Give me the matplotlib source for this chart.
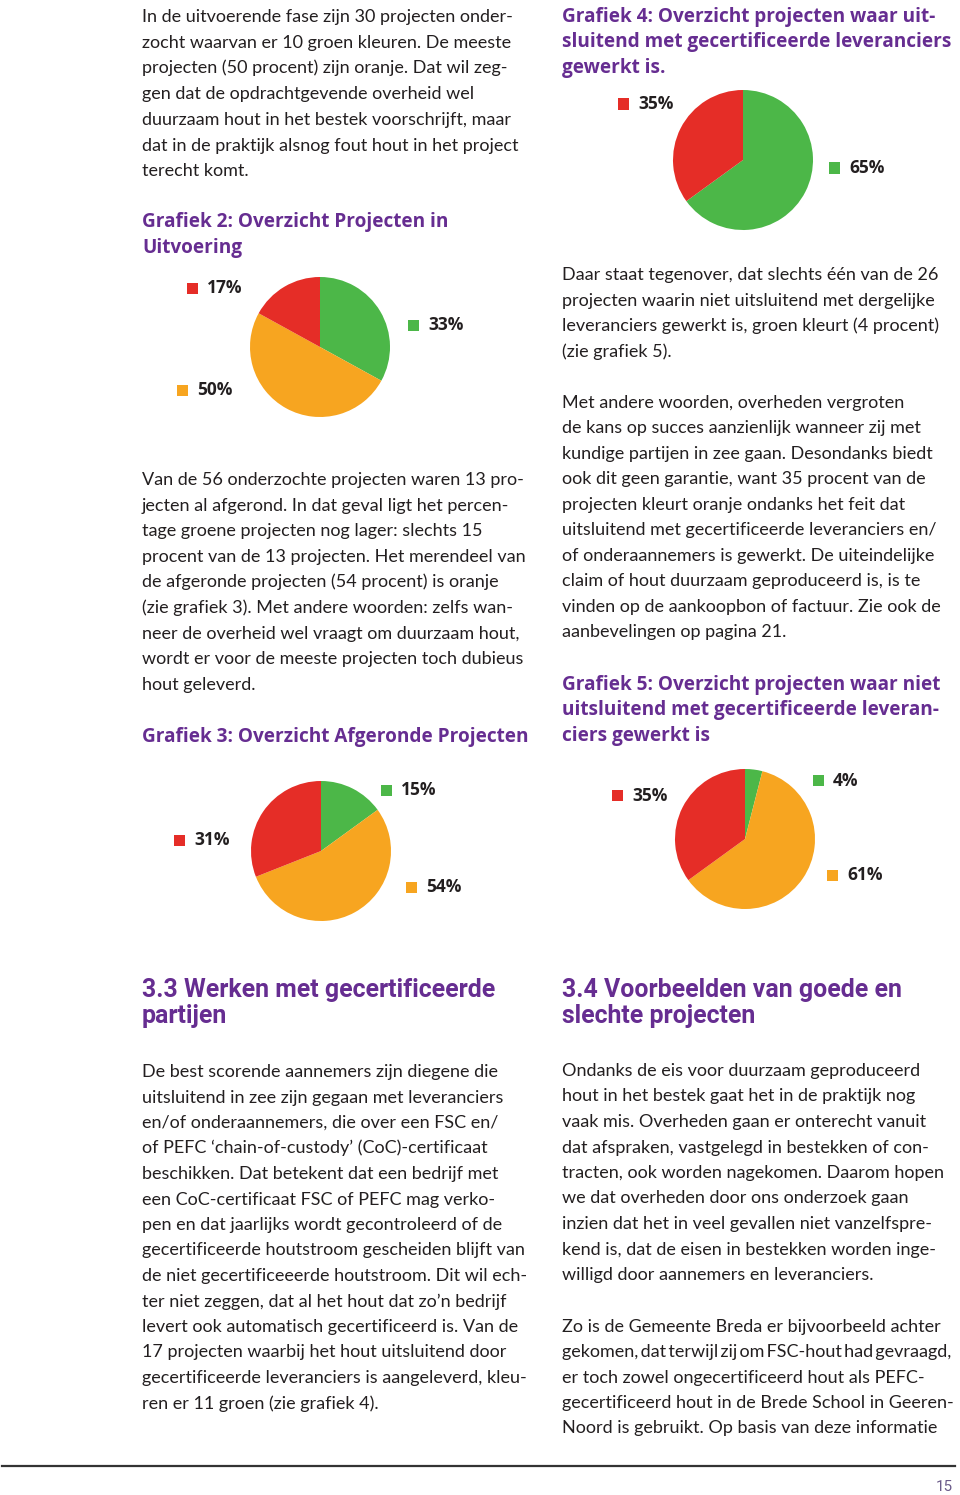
from matplotlib import pyplot as plt
from matplotlib.patches import Rectangle

W, H = 960, 1495

GREEN = '#4cb748'
ORANGE = '#f7a520'
RED = '#e52d27'
PURPLE = '#662d91'
INK = '#231f20'

# chart data (percent), slices go clockwise from the top
g2_vals = [33, 50, 17]
g2_cols = [GREEN, ORANGE, RED]
g4_vals = [65, 35]
g4_cols = [GREEN, RED]
g3_vals = [15, 54, 31]
g3_cols = [GREEN, ORANGE, RED]
g5_vals = [4, 61, 35]
g5_cols = [GREEN, ORANGE, RED]

para1 = ['In de uitvoerende fase zijn 30 projecten onder-',
         'zocht waarvan er 10 groen kleuren. De meeste',
         'projecten (50 procent) zijn oranje. Dat wil zeg-',
         'gen dat de opdrachtgevende overheid wel',
         'duurzaam hout in het bestek voorschrijft, maar',
         'dat in de praktijk alsnog fout hout in het project',
         'terecht komt.']
title2 = ['Grafiek 2: Overzicht Projecten in', 'Uitvoering']
para2 = ['Van de 56 onderzochte projecten waren 13 pro-',
         'jecten al afgerond. In dat geval ligt het percen-',
         'tage groene projecten nog lager: slechts 15',
         'procent van de 13 projecten. Het merendeel van',
         'de afgeronde projecten (54 procent) is oranje',
         '(zie grafiek 3). Met andere woorden: zelfs wan-',
         'neer de overheid wel vraagt om duurzaam hout,',
         'wordt er voor de meeste projecten toch dubieus',
         'hout geleverd.']
title3 = ['Grafiek 3: Overzicht Afgeronde Projecten']
title4 = ['Grafiek 4: Overzicht projecten waar uit-',
          'sluitend met gecertificeerde leveranciers',
          'gewerkt is.']
para3 = ['Daar staat tegenover, dat slechts één van de 26',
         'projecten waarin niet uitsluitend met dergelijke',
         'leveranciers gewerkt is, groen kleurt (4 procent)',
         '(zie grafiek 5).']
para4 = ['Met andere woorden, overheden vergroten',
         'de kans op succes aanzienlijk wanneer zij met',
         'kundige partijen in zee gaan. Desondanks biedt',
         'ook dit geen garantie, want 35 procent van de',
         'projecten kleurt oranje ondanks het feit dat',
         'uitsluitend met gecertificeerde leveranciers en/',
         'of onderaannemers is gewerkt. De uiteindelijke',
         'claim of hout duurzaam geproduceerd is, is te',
         'vinden op de aankoopbon of factuur. Zie ook de',
         'aanbevelingen op pagina 21.']
title5 = ['Grafiek 5: Overzicht projecten waar niet',
          'uitsluitend met gecertificeerde leveran-',
          'ciers gewerkt is']
head33 = ['3.3 Werken met gecertificeerde', 'partijen']
head34 = ['3.4 Voorbeelden van goede en', 'slechte projecten']
para5 = ['De best scorende aannemers zijn diegene die',
         'uitsluitend in zee zijn gegaan met leveranciers',
         'en/of onderaannemers, die over een FSC en/',
         'of PEFC ‘chain-of-custody’ (CoC)-certificaat',
         'beschikken. Dat betekent dat een bedrijf met',
         'een CoC-certificaat FSC of PEFC mag verko-',
         'pen en dat jaarlijks wordt gecontroleerd of de',
         'gecertificeerde houtstroom gescheiden blijft van',
         'de niet gecertificeeerde houtstroom. Dit wil ech-',
         'ter niet zeggen, dat al het hout dat zo’n bedrijf',
         'levert ook automatisch gecertificeerd is. Van de',
         '17 projecten waarbij het hout uitsluitend door',
         'gecertificeerde leveranciers is aangeleverd, kleu-',
         'ren er 11 groen (zie grafiek 4).']
para6 = ['Ondanks de eis voor duurzaam geproduceerd',
         'hout in het bestek gaat het in de praktijk nog',
         'vaak mis. Overheden gaan er onterecht vanuit',
         'dat afspraken, vastgelegd in bestekken of con-',
         'tracten, ook worden nagekomen. Daarom hopen',
         'we dat overheden door ons onderzoek gaan',
         'inzien dat het in veel gevallen niet vanzelfspre-',
         'kend is, dat de eisen in bestekken worden inge-',
         'willigd door aannemers en leveranciers.']
para7 = ['Zo is de Gemeente Breda er bijvoorbeeld achter',
         'gekomen,\u2009dat\u2009terwijl\u2009zij\u2009om\u2009FSC-hout\u2009had\u2009gevraagd,',
         'er toch zowel ongecertificeerd hout als PEFC-',
         'gecertificeerd hout in de Brede School in Geeren-',
         'Noord is gebruikt. Op basis van deze informatie']
page_no = '15'

BODY = dict(family=['Lato', 'DejaVu Sans'], fontsize=13.0, color=INK)
TITLE = dict(family='Open Sans', fontsize=13.7, color=PURPLE, fontweight='bold')
HEAD = dict(family='Roboto', fontsize=17.9, color=PURPLE, fontweight='bold')
LAB = dict(family='Open Sans', fontsize=12.5, color=INK, fontweight='bold')

fig = plt.figure(figsize=(W / 100, H / 100), dpi=100)


def px(x, y):
    return x / W, 1 - y / H


def block(x, y0, lines, pitch=25.6, **kw):
    for i, line in enumerate(lines):
        fig.text(*px(x, y0 + i * pitch), line, va='baseline', ha='left', **kw)


def pie(cx, cy, vals, cols, r=70):
    ax = fig.add_axes([(cx - r) / W, 1 - (cy + r) / H, 2 * r / W, 2 * r / H])
    ax.pie(vals, colors=cols, startangle=90, counterclock=False,
           wedgeprops=dict(linewidth=0))
    ax.set_xlim(-1, 1)
    ax.set_ylim(-1, 1)
    ax.axis('off')


def label(x, y, txt, col, s=11):
    fig.add_artist(Rectangle((x / W, 1 - (y + s / 2) / H), s / W, s / H,
                             transform=fig.transFigure, color=col, lw=0))
    fig.text(*px(x + s + 9, y), txt, va='center', ha='left', **LAB)


# left column
block(142, 22, para1, pitch=25.7, **BODY)
block(142, 227, title2, pitch=26, **TITLE)
pie(320, 347, g2_vals, g2_cols)
label(187, 288, f'{g2_vals[2]}%', RED)
label(408, 325, f'{g2_vals[0]}%', GREEN)
label(177, 390, f'{g2_vals[1]}%', ORANGE)
block(142, 485, para2, **BODY)
block(142, 742, title3, **TITLE)
pie(321, 851, g3_vals, g3_cols)
label(381, 790, f'{g3_vals[0]}%', GREEN)
label(174, 840, f'{g3_vals[2]}%', RED)
label(406, 887, f'{g3_vals[1]}%', ORANGE)

# right column
block(562, 22, title4, pitch=25.5, **TITLE)
pie(743, 160, g4_vals, g4_cols)
label(618, 104, f'{g4_vals[1]}%', RED)
label(829, 168, f'{g4_vals[0]}%', GREEN)
block(562, 280, para3, **BODY)
block(562, 408, para4, pitch=25.45, **BODY)
block(562, 690, title5, pitch=25.5, **TITLE)
pie(745, 839, g5_vals, g5_cols)
label(813, 781, f'{g5_vals[0]}%', GREEN)
label(612, 796, f'{g5_vals[2]}%', RED)
label(827, 875, f'{g5_vals[1]}%', ORANGE)

# section headings
block(142, 997, head33, pitch=25.5, **HEAD)
block(562, 997, head34, pitch=25.5, **HEAD)
block(142, 1077, para5, pitch=25.5, **BODY)
block(562, 1076, para6, pitch=25.5, **BODY)
block(562, 1332, para7, pitch=25.3, **BODY)

# footer
fig.add_artist(plt.Line2D([2 / W, 955 / W], [1 - 1466 / H] * 2,
                          transform=fig.transFigure, color='#333333', lw=1.6))
fig.text(*px(953, 1491), page_no, ha='right', va='baseline',
         family='Roboto', fontsize=11, color='#6b5b8a')

fig.savefig('out.png', dpi=100)
